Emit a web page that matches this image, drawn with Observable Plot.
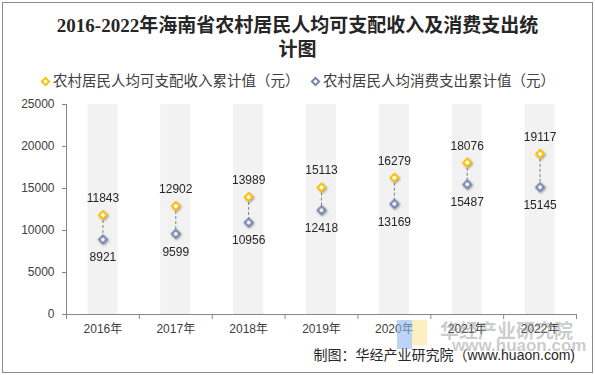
<!DOCTYPE html>
<html><head><meta charset="utf-8">
<script src="https://cdn.jsdelivr.net/npm/d3@7"></script>
<script src="https://cdn.jsdelivr.net/npm/@observablehq/plot@0.6"></script>
<style>
body{margin:0;background:#fff;}
#wrap{position:relative;width:595px;height:375px;overflow:hidden;font-family:"Liberation Sans","Noto Sans CJK SC",sans-serif;}
#frame{position:absolute;left:2px;top:2px;width:589px;height:369px;border:1px solid #8a8a8a;}
#title{position:absolute;left:0;top:14px;width:595px;text-align:center;font:bold 19px/24px "Liberation Serif","Noto Sans CJK SC",serif;color:#262626;}
#legend{position:absolute;top:71px;left:0;width:595px;height:20px;font-size:14.5px;color:#404040;}
.item{position:absolute;top:0;display:flex;align-items:center;white-space:nowrap;line-height:20px;}
.item svg{margin-right:2px;}
#chart{position:absolute;left:0;top:95px;}
#chart g[aria-label="dot"]{filter:drop-shadow(1.5px 1.5px 1px rgba(0,0,0,0.35));}
#caption{position:absolute;right:20px;top:345px;font-size:14px;line-height:20px;color:#262626;white-space:nowrap;}
.wm{position:absolute;color:rgba(140,140,140,0.45);font-weight:bold;white-space:nowrap;}
.logo{position:absolute;opacity:0.6;}
</style>
</head><body>
<div id="wrap">
  <div id="frame"></div>
  <div id="title">2016-2022年海南省农村居民人均可支配收入及消费支出统<br>计图</div>
  <div id="legend"></div>
  <div id="chart"></div>
  <div class="logo" style="left:397px;top:320px;width:15px;height:29px;background:#8fb8f0;"></div>
  <div class="logo" style="left:412px;top:320px;width:15px;height:25px;background:#fbe49a;"></div>
  <div class="wm" style="left:440px;top:320px;font-size:19px;line-height:24px;">华经产业研究院</div>
  <div class="wm" style="left:452px;top:336px;font-size:17px;line-height:20px;">www.huaon.com</div>
  <div id="caption">制图：华经产业研究院（www.huaon.com)</div>
</div>
<script>
const years = [2016, 2017, 2018, 2019, 2020, 2021, 2022];
const income = [11843, 12902, 13989, 15113, 16279, 18076, 19117];
const consumption = [8921, 9599, 10956, 12418, 13169, 15487, 15145];
const yTicks = [0, 5000, 10000, 15000, 20000, 25000];
const seriesNames = ["农村居民人均可支配收入累计值（元）", "农村居民人均消费支出累计值（元）"];
const seriesColors = ["#ffc000", "#7383ab"];

const rows = years.map((y, i) => ({year: y, income: income[i], consumption: consumption[i]}));
const yMax = yTicks[yTicks.length - 1];
const bounds = years.map(y => y - 0.5).concat([years[years.length - 1] + 0.5]);

// legend
const legend = document.getElementById("legend");
const legendLefts = [40, 310];
seriesNames.forEach((name, i) => {
  const it = document.createElement("div");
  it.className = "item";
  it.style.left = legendLefts[i] + "px";
  it.innerHTML = `<svg width="11" height="11" viewBox="-5.5 -5.5 11 11"><path d="M0,-3.6L3.6,0L0,3.6L-3.6,0Z" fill="white" stroke="${seriesColors[i]}" stroke-width="2"/></svg><span>${name}</span>`;
  legend.appendChild(it);
});

const chart = Plot.plot({
  width: 595,
  height: 250,
  marginTop: 9,
  marginBottom: 31,
  marginLeft: 66,
  marginRight: 19,
  style: {fontFamily: "'Liberation Sans','Noto Sans CJK SC',sans-serif", fontSize: "12px", color: "#404040", background: "transparent", overflow: "visible"},
  x: {domain: [bounds[0], bounds[bounds.length - 1]], label: null},
  y: {domain: [0, yMax], label: null},
  marks: [
    Plot.rectY(rows, {x1: d => d.year - 0.5, x2: d => d.year + 0.5, y1: 0, y2: yMax, fill: "#f2f2f2", insetLeft: 21.5, insetRight: 21.5}),
    Plot.ruleY([0], {stroke: "#868686"}),
    Plot.ruleX([bounds[0]], {stroke: "#868686"}),
    Plot.axisY({ticks: yTicks, tickSize: 4, tickPadding: 8, tickFormat: d => String(d), stroke: "#868686", fill: "#404040", label: null}),
    Plot.axisX({ticks: bounds, tickSize: 5, tickFormat: () => "", stroke: "#868686", label: null}),
    Plot.axisX({ticks: years, tickSize: 0, tickPadding: 10, tickFormat: d => d + "年", fill: "#404040", label: null}),
    Plot.link(rows, {x1: "year", x2: "year", y1: "income", y2: "consumption", stroke: "#7f7f7f", strokeDasharray: "3,2"}),
    Plot.dot(rows, {x: "year", y: "consumption", symbol: "diamond2", r: 3.5, stroke: seriesColors[1], strokeWidth: 2, fill: "white"}),
    Plot.dot(rows, {x: "year", y: "income", symbol: "diamond2", r: 3.5, stroke: seriesColors[0], strokeWidth: 2, fill: "white"}),
    Plot.text(rows, {x: "year", y: "income", text: d => String(d.income), dy: -17, fill: "#262626"}),
    Plot.text(rows, {x: "year", y: "consumption", text: d => String(d.consumption), dy: 18, fill: "#262626"})
  ]
});
document.getElementById("chart").appendChild(chart);
</script>
</body></html>
